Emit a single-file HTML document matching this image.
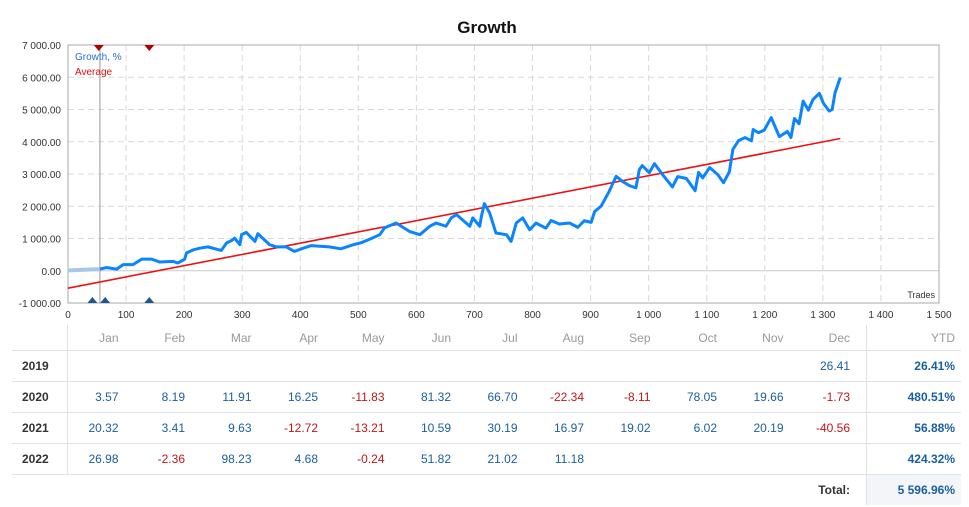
<!DOCTYPE html>
<html><head><meta charset="utf-8">
<style>
body{margin:0;background:#fff;font-family:"Liberation Sans",sans-serif;}
#wrap{position:relative;width:969px;height:507px;overflow:hidden;}
svg text{font-family:"Liberation Sans",sans-serif;}
table{position:absolute;left:12px;top:325px;border-collapse:collapse;font-size:12px;}
td{height:30px;padding:0 16px 0 0;text-align:right;border-bottom:1px solid #dde3ea;color:#1a5fa0;}
td.y{width:45px;padding:0 0 0 10px;text-align:left;font-weight:bold;color:#333;border-right:1px solid #dde3ea;}
td.m{width:50.5px;}
td.t{width:88px;border-left:1px solid #dde3ea;padding-right:6px;font-weight:bold;color:#1a5fa0;}
tr.h td{color:#999;height:24px;font-weight:normal;padding-top:1px;}
td.n{color:#c01818;}
tr.last td{border-bottom:none;}
</style></head><body>
<div id="wrap">
<svg id="chart" width="969" height="325"></svg>
<table>
<tr class="h"><td class="y" style="border-bottom:1px solid #dde3ea"></td><td class="m">Jan</td><td class="m">Feb</td><td class="m">Mar</td><td class="m">Apr</td><td class="m">May</td><td class="m">Jun</td><td class="m">Jul</td><td class="m">Aug</td><td class="m">Sep</td><td class="m">Oct</td><td class="m">Nov</td><td class="m">Dec</td><td class="t" style="color:#999;font-weight:normal">YTD</td></tr>
<tr><td class="y">2019</td><td></td><td></td><td></td><td></td><td></td><td></td><td></td><td></td><td></td><td></td><td></td><td>26.41</td><td class="t">26.41%</td></tr>
<tr><td class="y">2020</td><td>3.57</td><td>8.19</td><td>11.91</td><td>16.25</td><td class="n">-11.83</td><td>81.32</td><td>66.70</td><td class="n">-22.34</td><td class="n">-8.11</td><td>78.05</td><td>19.66</td><td class="n">-1.73</td><td class="t">480.51%</td></tr>
<tr><td class="y">2021</td><td>20.32</td><td>3.41</td><td>9.63</td><td class="n">-12.72</td><td class="n">-13.21</td><td>10.59</td><td>30.19</td><td>16.97</td><td>19.02</td><td>6.02</td><td>20.19</td><td class="n">-40.56</td><td class="t">56.88%</td></tr>
<tr><td class="y">2022</td><td>26.98</td><td class="n">-2.36</td><td>98.23</td><td>4.68</td><td class="n">-0.24</td><td>51.82</td><td>21.02</td><td>11.18</td><td></td><td></td><td></td><td></td><td class="t">424.32%</td></tr>
<tr class="last"><td style="border:none"></td><td colspan="12" style="font-weight:bold;color:#333;">Total:</td><td class="t" style="background:#f3f5f9;">5 596.96%</td></tr>
</table>
</div>
<script>
const trades=[0,55,66,84,95,112,127,144,158,181,189,201,204,216,227,241,264,273,282,287,296,299,307,322,327,347,359,376,390,405,419,434,450,470,490,505,520,537,545,565,588,606,623,634,651,660,669,692,697,709,712,717,726,737,755,763,772,783,795,806,823,832,846,864,878,889,901,907,918,932,944,955,967,978,984,989,1001,1010,1024,1041,1050,1065,1080,1086,1093,1105,1119,1129,1139,1145,1155,1166,1177,1180,1189,1199,1211,1225,1239,1245,1251,1259,1266,1275,1283,1294,1301,1311,1316,1321,1330];
const growth=[10,50,100,50,190,190,360,360,270,290,240,360,550,650,700,740,630,860,940,1010,810,1120,1190,910,1150,810,740,740,600,700,780,760,740,680,800,870,980,1118,1330,1480,1220,1118,1380,1480,1380,1640,1740,1380,1640,1380,1690,2080,1800,1170,1118,910,1480,1640,1270,1480,1320,1560,1450,1480,1345,1550,1500,1840,2000,2460,2930,2770,2640,2570,3140,3260,3040,3320,2980,2600,2920,2860,2480,3050,2880,3200,2980,2730,3070,3760,4040,4130,4030,4380,4280,4360,4750,4160,4320,4130,4720,4560,5260,4980,5310,5500,5190,4950,5000,5520,5990];
const avgTrades=[0,1330];
const avgValues=[-540,4100];
const yTicks=[7000,6000,5000,4000,3000,2000,1000,0,-1000];
const yTickLabels=["7 000.00","6 000.00","5 000.00","4 000.00","3 000.00","2 000.00","1 000.00","0.00","-1 000.00"];
const xTicks=[0,100,200,300,400,500,600,700,800,900,1000,1100,1200,1300,1400,1500];
const xTickLabels=["0","100","200","300","400","500","600","700","800","900","1 000","1 100","1 200","1 300","1 400","1 500"];
const topMarkers=[53,140];
const bottomMarkers=[42,64,140];
const startIdx=1;
const L=68,R=939,T=45,B=303;
const sx=v=>L+(v-0)/1500*(R-L);
const sy=v=>T+(7000-v)/8000*(B-T);
const NS="http://www.w3.org/2000/svg";
const svg=document.getElementById('chart');
function mk(tag,attrs,parent){const e=document.createElementNS(NS,tag);for(const k in attrs)e.setAttribute(k,attrs[k]);(parent||svg).appendChild(e);return e;}
let t=mk('text',{x:487,y:33,'text-anchor':'middle','font-size':'17','font-weight':'bold',fill:'#111'});t.textContent='Growth';


yTicks.forEach((v,i)=>{
 const y=sy(v);
 const g=mk('line',{x1:L,x2:R,y1:y,y2:y,stroke:v===0?'#ccc':'#d8d8d8','stroke-dasharray':v===0?'':'6,4'});
 
 
 const tx=mk('text',{x:L-7,y:y+4,'text-anchor':'end','font-size':'10',fill:'#333'});tx.textContent=yTickLabels[i];
 
 
});
xTicks.forEach((v,i)=>{
 const x=sx(v);
 if(v>0&&v<1500){const g=mk('line',{x1:x,x2:x,y1:T,y2:B,stroke:'#d8d8d8','stroke-dasharray':'6,4'});
 
 }
 const tx=mk('text',{x:x,y:B+15,'text-anchor':'middle','font-size':'10',fill:'#333'});tx.textContent=xTickLabels[i];
 
 
});
const fr=mk('rect',{x:L,y:T,width:R-L,height:B-T,fill:'none',stroke:'#aaa'});


const vl=mk('line',{x1:sx(trades[startIdx]),x2:sx(trades[startIdx]),y1:T,y2:B,stroke:'#999'});


const tr=mk('text',{x:R-4,y:B-5,'text-anchor':'end','font-size':'9',fill:'#333'});tr.textContent='Trades';


const av=mk('polyline',{points:avgTrades.map((v,i)=>sx(v)+','+sy(avgValues[i])).join(' '),fill:'none',stroke:'#ee1111','stroke-width':1.6});


const pre=mk('polyline',{points:trades.slice(0,startIdx+1).map((v,i)=>sx(v)+','+sy(growth[i])).join(' '),fill:'none',stroke:'#a9c8e8','stroke-width':4});


const gl=mk('polyline',{points:trades.slice(startIdx).map((v,i)=>sx(v)+','+sy(growth[i+startIdx])).join(' '),fill:'none',stroke:'#0a84ff','stroke-width':3,'stroke-linejoin':'round'});


topMarkers.forEach(v=>{const x=sx(v);const p=mk('polygon',{points:`${x-5},${T} ${x+5},${T} ${x},${T+6}`,fill:'#b00000'});
 
 });
bottomMarkers.forEach(v=>{const x=sx(v);const p=mk('polygon',{points:`${x-5},${B} ${x+5},${B} ${x},${B-6}`,fill:'#1a5a90'});
 
 });
const l1=mk('text',{x:L+7,y:T+15,'font-size':'10',fill:'#2a6fd6'});l1.textContent='Growth, %';


const l2=mk('text',{x:L+7,y:T+30,'font-size':'10',fill:'#e01010'});l2.textContent='Average';


</script>
</body></html>
